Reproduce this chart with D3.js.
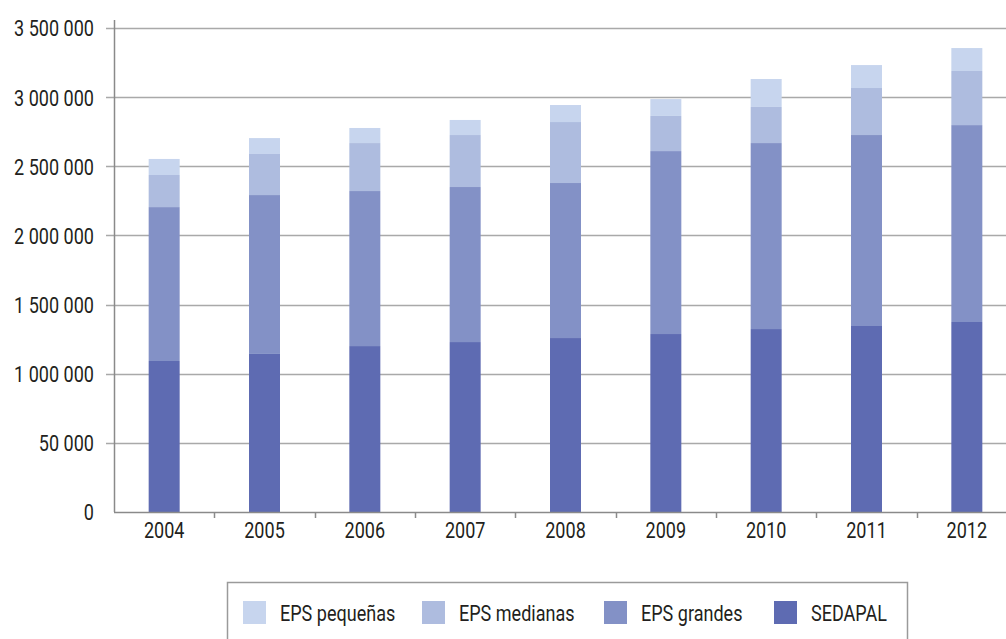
<!DOCTYPE html>
<html>
<head>
<meta charset="utf-8">
<script src="https://cdn.jsdelivr.net/npm/d3@7"></script>
<style>
  html, body { margin: 0; padding: 0; background: #fff; }
  svg text { font-family: "Roboto", "Liberation Sans", sans-serif; fill: #231f20; }
</style>
</head>
<body>
<svg id="chart" width="1006" height="639"></svg>
<script>
// Conexiones de agua potable por tipo de prestador, 2004-2012
const years = ["2004", "2005", "2006", "2007", "2008", "2009", "2010", "2011", "2012"];
const sedapal      = [1092000, 1143000, 1200000, 1229000, 1258000, 1287000, 1323000, 1345000, 1374000];
const epsGrandes   = [1113000, 1149000, 1121000, 1121000, 1121000, 1323000, 1345000, 1381000, 1424000];
const epsMedianas  = [232000, 297000, 347000, 376000, 441000, 254000, 261000, 340000, 391000];
const epsPequenas  = [116000, 115000, 109000, 109000, 123000, 122000, 202000, 166000, 166000];
const yTickValues  = [0, 500000, 1000000, 1500000, 2000000, 2500000, 3000000, 3500000];
const yTickLabels  = ["0", "50 000", "1 000 000", "1 500 000", "2 000 000", "2 500 000", "3 000 000", "3 500 000"];

const seriesKeys   = ["SEDAPAL", "EPS grandes", "EPS medianas", "EPS pequeñas"];
const seriesValues = [sedapal, epsGrandes, epsMedianas, epsPequenas];
const colors       = ["#5e6bb2", "#8391c6", "#aebcdf", "#c7d5ee"];
const legendOrder  = ["EPS pequeñas", "EPS medianas", "EPS grandes", "SEDAPAL"];

const table = years.map((yr, i) => {
  const row = { year: yr };
  seriesKeys.forEach((k, j) => row[k] = seriesValues[j][i]);
  return row;
});
const stacked = d3.stack().keys(seriesKeys)(table);

const svg = d3.select("#chart");
const plotLeft = 114, plotRight = 1017, plotTop = 28, plotBottom = 512;
const fontSize = "22px";
const squeeze = 0.82; // narrow the lettering horizontally

// horizontally condensed lettering, keeping each label's anchor point
function condense(sel) {
  sel.each(function () {
    const t = d3.select(this);
    const x0 = +t.attr("x") || 0;
    t.attr("x", x0 / squeeze).attr("transform", `scale(${squeeze},1)`);
  });
}

const x = d3.scaleBand().domain(years).range([plotLeft, plotRight]).paddingInner(0).paddingOuter(0);
const y = d3.scaleLinear().domain([0, 3500000]).range([plotBottom, plotTop]);
const color = d3.scaleOrdinal().domain(seriesKeys).range(colors);

// horizontal gridlines
svg.append("g")
  .selectAll("line")
  .data(yTickValues.filter(v => v > 0))
  .join("line")
  .attr("x1", plotLeft - 8).attr("x2", 1006)
  .attr("y1", d => Math.round(y(d)) + 0.5).attr("y2", d => Math.round(y(d)) + 0.5)
  .attr("stroke", "#a9a9a9").attr("stroke-width", 1.6);

// stacked bars
const barW = 31;
svg.append("g")
  .selectAll("g")
  .data(stacked)
  .join("g")
  .attr("fill", d => color(d.key))
  .selectAll("rect")
  .data(d => d)
  .join("rect")
  .attr("x", d => x(d.data.year) + x.bandwidth() / 2 - barW / 2)
  .attr("width", barW)
  .attr("y", d => y(d[1]))
  .attr("height", d => y(d[0]) - y(d[1]));

// y axis
const yAxis = d3.axisLeft(y)
  .tickValues(yTickValues)
  .tickFormat((d, i) => yTickLabels[i])
  .tickSize(0)
  .tickPadding(20);
const gy = svg.append("g").attr("transform", `translate(${plotLeft},0)`).call(yAxis);
gy.select(".domain").remove();
gy.selectAll("text").style("font-size", fontSize).attr("dy", "0.36em").call(condense);
svg.append("line")
  .attr("x1", plotLeft + 0.5).attr("x2", plotLeft + 0.5)
  .attr("y1", 20).attr("y2", plotBottom)
  .attr("stroke", "#8a8a8a").attr("stroke-width", 1.5);

// x axis
const gx = svg.append("g").attr("transform", `translate(0,${plotBottom})`)
  .call(d3.axisBottom(x).tickSize(0).tickPadding(10));
gx.select(".domain").remove();
gx.selectAll("text").style("font-size", fontSize).attr("dy", "0.71em").call(condense);
svg.append("line")
  .attr("x1", plotLeft).attr("x2", 1006)
  .attr("y1", plotBottom + 0.5).attr("y2", plotBottom + 0.5)
  .attr("stroke", "#8a8a8a").attr("stroke-width", 1.5);
svg.append("g")
  .selectAll("line")
  .data(years.slice(1))
  .join("line")
  .attr("x1", d => Math.round(x(d)) + 0.5).attr("x2", d => Math.round(x(d)) + 0.5)
  .attr("y1", plotBottom).attr("y2", plotBottom + 6)
  .attr("stroke", "#8a8a8a").attr("stroke-width", 1.5);

// legend
const legend = svg.append("g");
legend.append("rect")
  .attr("x", 227.5).attr("y", 582.5).attr("width", 680).attr("height", 70)
  .attr("fill", "none").attr("stroke", "#9a9a9a").attr("stroke-width", 1.5);
const legendX = [243, 422, 604, 774];
const items = legend.selectAll("g.item")
  .data(legendOrder)
  .join("g")
  .attr("class", "item")
  .attr("transform", (d, i) => `translate(${legendX[i]},601)`);
items.append("rect")
  .attr("width", 23).attr("height", 23)
  .attr("fill", d => color(d));
items.append("text")
  .attr("x", 37).attr("y", 12).attr("dy", "0.36em")
  .style("font-size", fontSize)
  .text(d => d)
  .call(condense);
</script>
</body>
</html>
